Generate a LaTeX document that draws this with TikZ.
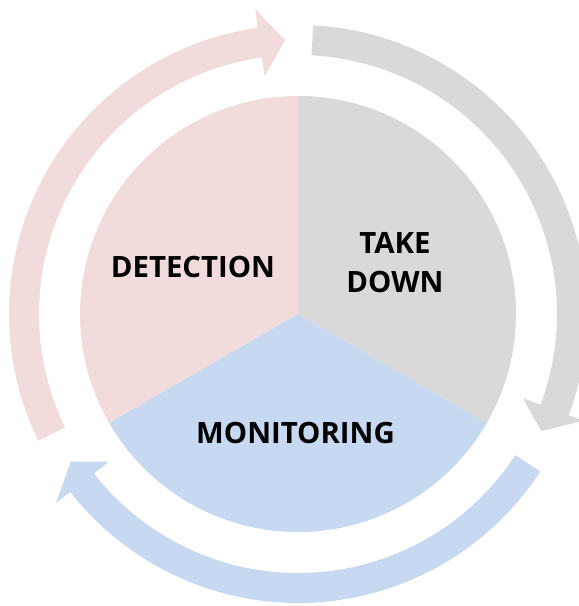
\documentclass[tikz,border=0pt]{standalone}
\usepackage{fontspec}
\setmainfont{Open Sans}
\definecolor{detpink}{HTML}{F2DCDB}
\definecolor{takegray}{HTML}{D9D9D9}
\definecolor{monblue}{HTML}{C6D9F1}

\begin{document}
\begin{tikzpicture}[every node/.style={font=\fontsize{16.7}{22}\selectfont\bfseries, align=center}]
\useasboundingbox (-5.96,-5.84) rectangle (5.62,6.28);
% Pie
\fill [detpink] (0,0) -- (90:4.36) arc (90:210:4.36) -- cycle;
\fill [takegray] (0,0) -- (90:4.36) arc (90:-30:4.36) -- cycle;
\fill [monblue] (0,0) -- (210:4.36) arc (210:330:4.36) -- cycle;
% Arrows
\fill [detpink] (206:5.18) arc (206:98:5.18) -- (98:4.80) -- (92.7:5.48) -- (98:6.16) -- (98:5.78) arc (98:206:5.78) -- cycle;
\fill [takegray] (87:5.18) arc (87:-20.5:5.18) -- (-20.5:4.80) -- (-25.7:5.40) -- (-20.5:6.10) -- (-20.5:5.78) arc (-20.5:87:5.78) -- cycle;
\fill [monblue] (-33:5.18) arc (-33:-142:5.18) -- (-142:4.80) -- (-147:5.42) -- (-142:6.14) -- (-142:5.78) arc (-142:-33:5.78) -- cycle;
% Labels
\node (detection) at (-2.10,0.93) {DETECTION};
\node (takedown) at (1.94,1.03) {TAKE\\DOWN};
\node (monitoring) at (-0.05,-2.39) {MONITORING};
\end{tikzpicture}
\end{document}
